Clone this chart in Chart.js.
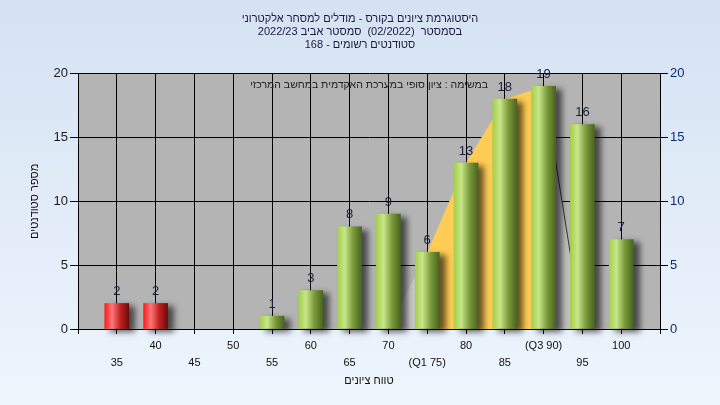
<!DOCTYPE html>
<html>
<head>
<meta charset="utf-8">
<script src="https://cdn.jsdelivr.net/npm/chart.js@4.4.1/dist/chart.umd.min.js"></script>
<style>
  html, body { margin: 0; padding: 0; }
  body { width: 720px; height: 405px; background: linear-gradient(#d5e2f3, #eef5fd); overflow: hidden; }
  #wrap { position: relative; width: 720px; height: 405px; }
</style>
</head>
<body>
<div id="wrap"><canvas id="gradeHistogram" dir="rtl"></canvas></div>
<script>
// ציונים (מרכז כל עמודה) ומספר הסטודנטים
const categories = [35, 40, 45, 50, 55, 60, 65, 70, 75, 80, 85, 90, 95, 100]
const tickLabels = ['35', '40', '45', '50', '55', '60', '65', '70', '(Q1 75)', '80', '85', '(Q3 90)', '95', '100']
const studentCounts = [2, 2, 0, 0, 1, 3, 8, 9, 6, 13, 18, 19, 16, 7]
const passMark = 55

// רצועת הרבעונים שמאחורי העמודות
const belowQ1X = [70, 75]
const belowQ1Y = [0, 6]
const q1q3X = [75, 80, 85, 90]
const q1q3Y = [6, 13, 18, 19]
const aboveQ3X = [90, 95]
const aboveQ3Y = [19, 0]

const yTicks = [0, 5, 10, 15, 20]

const titleLines = [
  'היסטוגרמת ציונים בקורס - מודלים למסחר אלקטרוני',
  'בסמסטר  (02/2022)  סמסטר אביב 2022/23',
  'סטודנטים רשומים - 168'
]
const noteText = 'במשימה : ציון סופי במערכת האקדמית במחשב המרכזי'

const toPoints = (xs, ys) => xs.map((x, i) => ({ x: x, y: ys[i] }))

Chart.defaults.font.family = "'Liberation Sans', Arial, sans-serif"
Chart.defaults.color = '#111'

// עמודה "גלילית" - גרדיאנט אופקי
const barFill = (context) => {
  const chart = context.chart
  const i = context.dataIndex
  if (!studentCounts[i]) return 'rgba(0,0,0,0)'
  const red = categories[i] < passMark
  const xScale = chart.scales.x
  if (context.type !== 'data' || !xScale || !chart.chartArea) return red ? '#e02020' : '#8fbc45'
  const xc = xScale.getPixelForValue(categories[i])
  const g = chart.ctx.createLinearGradient(xc - 12, 0, xc + 12, 0)
  if (red) {
    g.addColorStop(0, '#ff1c1c')
    g.addColorStop(0.3, '#ff7878')
    g.addColorStop(0.65, '#c02020')
    g.addColorStop(1, '#6e0a0a')
  } else {
    g.addColorStop(0, '#a4cf4a')
    g.addColorStop(0.3, '#c8e68a')
    g.addColorStop(0.65, '#7a9a3a')
    g.addColorStop(1, '#4a6420')
  }
  return g
}

const plotBackground = {
  id: 'plotBackground',
  beforeDraw(chart) {
    const { ctx, chartArea: a } = chart
    ctx.save()
    ctx.fillStyle = '#b4b4b4'
    ctx.fillRect(a.left, a.top, a.width, a.height)
    ctx.restore()
  }
}

const barShadow = {
  id: 'barShadow',
  beforeDatasetDraw(chart, args) {
    if (args.index !== 0) return
    const ctx = chart.ctx
    ctx.save()
    ctx.shadowColor = 'rgba(0,0,0,0.6)'
    ctx.shadowBlur = 6
    ctx.shadowOffsetX = 6
    ctx.shadowOffsetY = 3
  },
  afterDatasetDraw(chart, args) {
    if (args.index !== 0) return
    chart.ctx.restore()
  }
}

const valueLabels = {
  id: 'valueLabels',
  afterDatasetsDraw(chart) {
    const { ctx, chartArea: a } = chart
    // קו ציר X מעל הצללים
    ctx.save()
    ctx.strokeStyle = '#000'
    ctx.lineWidth = 1
    ctx.beginPath()
    ctx.moveTo(a.left, a.bottom + 0.5)
    ctx.lineTo(a.right, a.bottom + 0.5)
    ctx.stroke()

    ctx.font = "13px 'Liberation Sans', Arial, sans-serif"
    ctx.fillStyle = '#1a1f3a'
    ctx.textAlign = 'center'
    ctx.textBaseline = 'middle'
    chart.getDatasetMeta(0).data.forEach((bar, i) => {
      if (!studentCounts[i]) return
      ctx.fillText(String(studentCounts[i]), bar.x, bar.y - 12)
    })

    ctx.font = "10.5px 'Liberation Sans', Arial, sans-serif"
    ctx.fillStyle = '#222'
    ctx.textAlign = 'right'
    ctx.fillText(noteText, a.left + 410, a.top + 12)
    ctx.restore()
  }
}

const ctx = document.getElementById('gradeHistogram')
const gradeHistogram = new Chart(ctx, {
  type: 'bar',
  data: {
    datasets: [
      {
        label: 'סטודנטים',
        data: toPoints(categories, studentCounts),
        backgroundColor: barFill,
        borderWidth: 0,
        barThickness: 24,
        clip: false,
        order: 0
      },
      {
        type: 'line',
        data: toPoints(belowQ1X, belowQ1Y),
        backgroundColor: '#c6c6c6',
        borderWidth: 0,
        pointRadius: 0,
        fill: 'origin',
        order: 1
      },
      {
        type: 'line',
        data: toPoints(q1q3X, q1q3Y),
        backgroundColor: '#ffcc55',
        borderWidth: 0,
        pointRadius: 0,
        fill: 'origin',
        order: 1
      },
      {
        type: 'line',
        data: toPoints(aboveQ3X, aboveQ3Y),
        backgroundColor: '#c0c0c0',
        borderColor: '#333',
        borderWidth: 1,
        pointRadius: 0,
        fill: 'origin',
        order: 1
      }
    ]
  },
  options: {
    responsive: true,
    maintainAspectRatio: false,
    animation: false,
    layout: { padding: 0 },
    plugins: {
      legend: { display: false },
      tooltip: { enabled: false },
      title: {
        display: true,
        text: titleLines,
        color: '#1b1b3a',
        font: { size: 11, weight: 'normal', lineHeight: 1.2 },
        padding: { top: 12, bottom: 22 }
      }
    },
    scales: {
      x: {
        type: 'linear',
        min: 30,
        max: 105,
        offset: false,
        afterFit: (s) => { s.height = 76 },
        grid: { color: '#000', lineWidth: 1, tickLength: 5, offset: false },
        border: { color: '#000' },
        ticks: {
          stepSize: 5,
          autoSkip: false,
          maxRotation: 0,
          padding: 3,
          color: '#111',
          font: { size: 11, lineHeight: 1.55 },
          callback: (v) => {
            const i = categories.indexOf(v)
            if (i < 0) return ''
            // תוויות לסירוגין בשתי שורות
            return i % 2 === 0 ? ['', tickLabels[i]] : tickLabels[i]
          }
        },
        title: {
          display: true,
          text: 'טווח ציונים',
          color: '#111',
          font: { size: 11, lineHeight: 1.2 },
          padding: { top: 0, bottom: 17 }
        }
      },
      y: {
        position: 'left',
        min: yTicks[0],
        max: yTicks[yTicks.length - 1],
        afterFit: (s) => { s.width = 78 },
        grid: { color: '#000', lineWidth: 1, tickLength: 8 },
        border: { color: '#000' },
        ticks: { stepSize: 5, padding: 2, color: '#1a1a1a', font: { size: 13 } },
        title: {
          display: true,
          text: 'מספר סטודנטים',
          color: '#111',
          font: { size: 11, lineHeight: 1.2 },
          padding: { top: 28, bottom: 0 }
        }
      },
      y2: {
        position: 'right',
        min: yTicks[0],
        max: yTicks[yTicks.length - 1],
        afterFit: (s) => { s.width = 60 },
        grid: { color: '#000', lineWidth: 1, tickLength: 8, drawOnChartArea: false },
        border: { color: '#000' },
        ticks: { stepSize: 5, padding: 2, color: '#0d2a6e', font: { size: 13 } }
      }
    }
  },
  plugins: [plotBackground, barShadow, valueLabels]
})
</script>
</body>
</html>
